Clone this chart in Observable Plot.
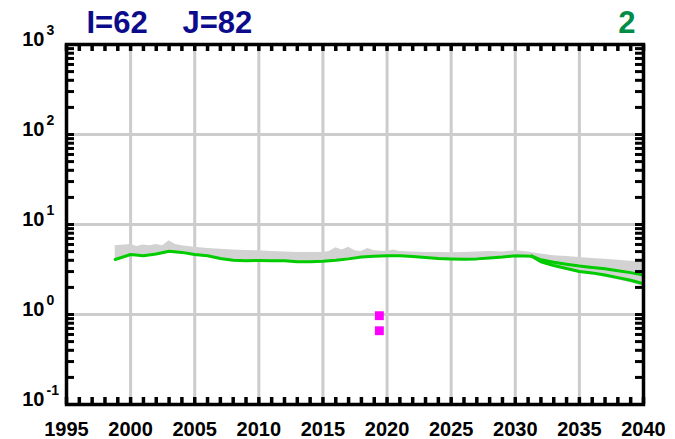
<!DOCTYPE html>
<html>
<head>
<meta charset="utf-8">
<script src="https://cdn.jsdelivr.net/npm/d3@7"></script>
<script src="https://cdn.jsdelivr.net/npm/@observablehq/plot@0.6"></script>
<style>
  html, body { margin: 0; padding: 0; background: #fff; }
  #chart svg { font-family: "Liberation Sans", Arial, sans-serif; }
</style>
</head>
<body>
<div id="chart"></div>
<script>
// ---- data ----
const mainYears = [1998.8, 2000, 2001, 2002, 2003, 2004, 2005, 2006, 2007, 2008, 2009, 2010, 2011, 2012, 2013, 2014, 2015, 2016, 2017, 2018, 2019, 2020, 2021, 2022, 2023, 2024, 2025, 2026, 2027, 2028, 2029, 2030, 2031.3];
const mainValues = [4.08, 4.64, 4.5, 4.7, 5.05, 4.9, 4.65, 4.5, 4.2, 4.0, 3.95, 3.98, 3.95, 3.95, 3.85, 3.85, 3.9, 4.0, 4.15, 4.35, 4.45, 4.5, 4.5, 4.4, 4.3, 4.2, 4.15, 4.1, 4.15, 4.25, 4.35, 4.5, 4.45];

const splitYears = [2031.3, 2032, 2033, 2034, 2035, 2036, 2037, 2038, 2039, 2040];
const upperValues = [4.45, 4.05, 3.8, 3.62, 3.45, 3.33, 3.22, 3.07, 2.92, 2.74];
const lowerValues = [4.45, 3.85, 3.5, 3.25, 3.0, 2.9, 2.75, 2.57, 2.4, 2.2];

const bandYears = [1998.8, 1999.5, 2000, 2000.5, 2001, 2001.5, 2002, 2002.5, 2003, 2003.5, 2004, 2005, 2006, 2007, 2008, 2009, 2010, 2011, 2012, 2013, 2014, 2015, 2015.5, 2016, 2016.5, 2017, 2017.5, 2018, 2018.5, 2019, 2020, 2020.5, 2021, 2022, 2023, 2024, 2025, 2026, 2027, 2028, 2029, 2030, 2031, 2032, 2033, 2034, 2035, 2036, 2037, 2038, 2039, 2040];
const bandHigh = [5.8, 5.9, 6.0, 5.7, 5.9, 5.8, 6.0, 5.8, 6.6, 6.0, 5.8, 5.6, 5.4, 5.3, 5.2, 5.15, 5.1, 5.0, 4.95, 4.9, 4.9, 4.9, 5.0, 5.5, 5.2, 5.6, 5.1, 5.0, 5.4, 5.1, 5.0, 5.2, 5.0, 4.95, 4.9, 4.9, 4.85, 4.9, 4.95, 5.0, 4.95, 5.1, 4.95, 4.7, 4.5, 4.4, 4.3, 4.2, 4.1, 4.0, 3.9, 3.8];
const bandLow = [4.0, 4.25, 4.5, 4.4, 4.4, 4.5, 4.6, 4.7, 4.9, 4.85, 4.75, 4.5, 4.3, 4.05, 3.9, 3.85, 3.85, 3.85, 3.85, 3.75, 3.75, 3.8, 3.85, 3.9, 3.95, 4.05, 4.15, 4.25, 4.3, 4.35, 4.4, 4.4, 4.4, 4.3, 4.2, 4.1, 4.05, 4.0, 4.05, 4.15, 4.25, 4.4, 4.35, 3.7, 3.35, 3.1, 2.9, 2.75, 2.6, 2.42, 2.25, 2.05];

const obsYears = [2019.4, 2019.4];
const obsValues = [0.97, 0.66];

const xLabelYears = [1995, 2000, 2005, 2010, 2015, 2020, 2025, 2030, 2035, 2040];
const xGridYears = [2000, 2005, 2010, 2015, 2020, 2025, 2030, 2035];
const xMinorYears = d3.range(1995, 2041);
const yDecades = [0.1, 1, 10, 100, 1000];
const yExponents = ["-1", "0", "1", "2", "3"];
const yGrid = [1, 10, 100];
const yMinor = [0.1, 1, 10, 100].flatMap(d => [1,2,3,4,5,6,7,8,9].map(m => m * d)).concat([1000]);

const titleLeft1 = "I=62";
const titleLeft2 = "J=82";
const titleRight = "2";

// ---- tables ----
const mainData = mainYears.map((x, i) => ({x, y: mainValues[i]}));
const upperData = splitYears.map((x, i) => ({x, y: upperValues[i]}));
const lowerData = splitYears.map((x, i) => ({x, y: lowerValues[i]}));
const bandData = bandYears.map((x, i) => ({x, lo: bandLow[i], hi: bandHigh[i]}));
const obsData = obsYears.map((x, i) => ({x, y: obsValues[i]}));
const decadeData = yDecades.map((y, i) => ({y, e: yExponents[i]}));

const W = 675, H = 439, ML = 66, MR = 32, MT = 44, MB = 35;
const plotW = W - ML - MR, plotH = H - MT - MB;
const tickX = 7, tickY = 8;

const font = "Liberation Sans, Arial, sans-serif";
const green = "#00cc00";

const chart = Plot.plot({
  width: W,
  height: H,
  marginLeft: ML,
  marginRight: MR,
  marginTop: MT,
  marginBottom: MB,
  x: {domain: [1995, 2040], axis: null},
  y: {type: "log", domain: [0.1, 1000], axis: null},
  marks: [
    Plot.gridX(xGridYears, {stroke: "#cccccc", strokeOpacity: 1, strokeWidth: 3}),
    Plot.gridY(yGrid, {stroke: "#cccccc", strokeOpacity: 1, strokeWidth: 3}),
    Plot.areaY(bandData, {x: "x", y1: "lo", y2: "hi", fill: "#d2d2d2"}),
    Plot.line(mainData, {x: "x", y: "y", stroke: green, strokeWidth: 3}),
    Plot.line(upperData, {x: "x", y: "y", stroke: green, strokeWidth: 3}),
    Plot.line(lowerData, {x: "x", y: "y", stroke: green, strokeWidth: 3}),
    Plot.dot(obsData, {x: "x", y: "y", symbol: "square", r: 5, fill: "#ff00ff", stroke: null}),
    // inward ticks
    Plot.ruleX(xMinorYears, {x: d => d, insetTop: plotH - tickX, stroke: "black", strokeWidth: 3.5}),
    Plot.ruleX(xMinorYears, {x: d => d, insetBottom: plotH - tickX, stroke: "black", strokeWidth: 3.5}),
    Plot.ruleY(yMinor, {y: d => d, insetRight: plotW - tickY, stroke: "black", strokeWidth: 3}),
    Plot.ruleY(yMinor, {y: d => d, insetLeft: plotW - tickY, stroke: "black", strokeWidth: 3}),
    Plot.frame({stroke: "black", strokeWidth: 3.5}),
    Plot.text(xLabelYears, {x: d => d, frameAnchor: "bottom", lineAnchor: "bottom", dy: 31, text: d => String(d), fontSize: 20, fontWeight: "bold", fontFamily: font, fill: "black"}),
    Plot.text(decadeData, {y: "y", frameAnchor: "left", textAnchor: "end", lineAnchor: "bottom", dx: -22, dy: 1, text: () => "10", fontSize: 20, fontWeight: "bold", fontFamily: font, fill: "black"}),
    Plot.text(decadeData, {y: "y", frameAnchor: "left", textAnchor: "start", lineAnchor: "bottom", dx: -20, dy: -10, text: "e", fontSize: 14, fontWeight: "bold", fontFamily: font, fill: "black"}),
    Plot.text([titleLeft1], {frameAnchor: "top-left", textAnchor: "start", lineAnchor: "bottom", dx: 20, dy: -12, text: d => d, fontSize: 31, fontWeight: "bold", fontFamily: font, fill: "#0b0b8c"}),
    Plot.text([titleLeft2], {frameAnchor: "top-left", textAnchor: "start", lineAnchor: "bottom", dx: 116, dy: -12, text: d => d, fontSize: 31, fontWeight: "bold", fontFamily: font, fill: "#0b0b8c"}),
    Plot.text([titleRight], {frameAnchor: "top-right", textAnchor: "end", lineAnchor: "bottom", dx: -8, dy: -12, text: d => d, fontSize: 31, fontWeight: "bold", fontFamily: font, fill: "#008c46"})
  ]
});
document.getElementById("chart").appendChild(chart);
</script>
</body>
</html>
